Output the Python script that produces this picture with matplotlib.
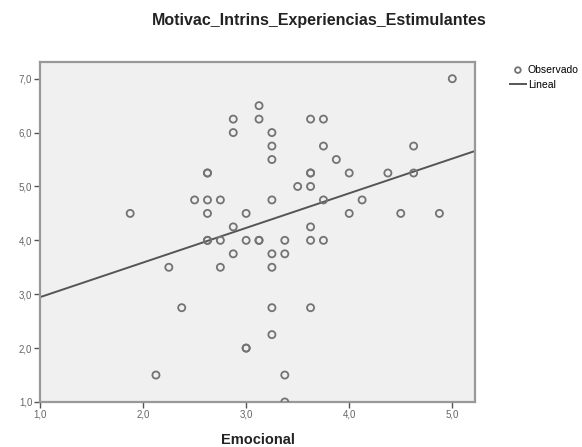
import numpy as np
import matplotlib.pyplot as plt

plt.rcParams['font.family'] = ['Liberation Sans', 'DejaVu Sans']

# Emocional (x) vs Motivac_Intrins_Experiencias_Estimulantes (y)
emocional = [
    5.0,
    3.125,
    2.875, 3.125, 3.625, 3.75,
    2.875, 3.25,
    3.25, 3.75, 4.625,
    3.25, 3.875,
    2.625, 2.625, 3.625, 3.625, 4.0, 4.375, 4.625,
    3.5, 3.625,
    2.5, 2.625, 2.75, 3.25, 3.75, 4.125,
    1.875, 2.625, 3.0, 4.0, 4.5, 4.875,
    2.875, 3.625,
    2.625, 2.625, 2.75, 3.0, 3.125, 3.125, 3.375, 3.625, 3.75,
    2.875, 3.25, 3.375,
    2.25, 2.75, 3.25,
    2.375, 3.25, 3.625,
    3.25,
    3.0, 3.0,
    2.125, 3.375,
    3.375,
]
motivacion = [
    7.0,
    6.5,
    6.25, 6.25, 6.25, 6.25,
    6.0, 6.0,
    5.75, 5.75, 5.75,
    5.5, 5.5,
    5.25, 5.25, 5.25, 5.25, 5.25, 5.25, 5.25,
    5.0, 5.0,
    4.75, 4.75, 4.75, 4.75, 4.75, 4.75,
    4.5, 4.5, 4.5, 4.5, 4.5, 4.5,
    4.25, 4.25,
    4.0, 4.0, 4.0, 4.0, 4.0, 4.0, 4.0, 4.0, 4.0,
    3.75, 3.75, 3.75,
    3.5, 3.5, 3.5,
    2.75, 2.75, 2.75,
    2.25,
    2.0, 2.0,
    1.5, 1.5,
    1.0,
]

x_ticks = [1.0, 2.0, 3.0, 4.0, 5.0]
y_ticks = [1.0, 2.0, 3.0, 4.0, 5.0, 6.0, 7.0]

x = np.array(emocional)
y = np.array(motivacion)
slope, intercept = np.polyfit(x, y, 1)

fig = plt.figure(figsize=(5.82, 4.47), dpi=100)
ax = fig.add_axes([0.0687, 0.1007, 0.7474, 0.7606])
ax.set_facecolor('#f0f0f0')

xmin, xmax = 1.0, 5.22
ymin, ymax = 1.0, 7.31
ax.set_xlim(xmin, xmax)
ax.set_ylim(ymin, ymax)

ax.scatter(x, y, s=26, facecolors='none', edgecolors='#737373',
           linewidths=1.3, zorder=3, label='Observado')
xl = np.array([xmin, xmax])
ax.plot(xl, intercept + slope * xl, color='#555555', lw=1.4,
        zorder=2, label='Lineal')

for s in ax.spines.values():
    s.set_color('#999999')
    s.set_linewidth(1.6)

ax.set_xticks(x_ticks)
ax.set_yticks(y_ticks)
ax.set_xticklabels([f'{v:.1f}'.replace('.', ',') for v in x_ticks])
ax.set_yticklabels([f'{v:.1f}'.replace('.', ',') for v in y_ticks])
ax.tick_params(axis='both', labelsize=7, labelcolor='#666666',
               color='#555555', length=4, width=1, pad=1.5, direction='out')

ax.set_xlabel('Emocional', fontsize=10.5, fontweight='bold',
              color='#222222', labelpad=9.5)

fig.text(152 / 582, 0.955, 'Motivac_Intrins_Experiencias_Estimulantes',
         ha='left', va='center', fontsize=11.5, fontweight='bold',
         color='#222222')

ax.legend(loc='upper left', bbox_to_anchor=(0.8755, 0.855),
          bbox_transform=fig.transFigure, frameon=False, fontsize=7.5,
          handlelength=1.6, handletextpad=0.15, labelspacing=0.45,
          borderaxespad=0, borderpad=0, markerscale=0.8)

fig.savefig('out.png', dpi=100)
